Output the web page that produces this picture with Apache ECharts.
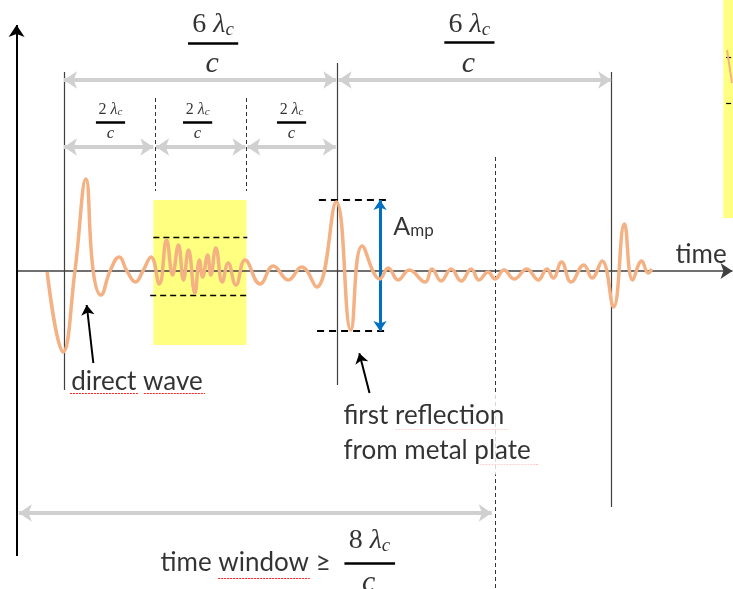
<!DOCTYPE html>
<html><head><meta charset="utf-8">
<script src="https://cdn.jsdelivr.net/npm/echarts@6/dist/echarts.min.js"></script>
<style>html,body{margin:0;padding:0;background:#fff}#c{width:733px;height:589px}</style>
</head><body><div id="c"></div>
<script>
// time in units of λc/c, amplitude in arbitrary units
const waveTime = [-0.37, -0.02, 0.24, 0.48, 0.64, 0.81, 1.01, 1.21, 1.38, 1.57, 1.73, 1.91, 2.09, 2.25, 2.38, 2.51, 2.62, 2.73, 2.87, 2.97, 3.04, 3.15, 3.22, 3.33, 3.47, 3.60, 3.77, 3.97, 4.30, 4.59, 4.92, 5.21, 5.54, 5.97, 6.29, 6.54, 6.93, 7.11, 7.33, 7.57, 7.92, 8.07, 8.27, 8.49, 8.71, 8.93, 9.10, 9.30, 9.45, 9.65, 9.87, 10.15, 10.40, 10.59, 10.73, 10.91, 11.12, 11.40, 11.58, 11.80, 12.05, 12.29, 12.47, 12.67, 12.81, 12.89];
const waveAmp = [-0.01, -0.81, 0, 0.92, 0, -0.24, 0, 0.14, 0, -0.11, 0, 0.14, -0.13, 0.31, -0.04, 0.26, -0.09, 0.21, -0.22, 0.11, -0.06, 0.16, -0.04, 0.23, -0.11, 0.08, -0.14, 0.11, -0.13, 0.05, -0.09, 0.04, -0.16, 0.69, -0.59, 0.25, -0.08, 0.03, -0.09, 0.01, -0.11, 0.02, -0.10, 0.02, -0.10, 0.02, -0.09, -0.01, -0.08, 0.01, -0.08, 0.02, -0.09, 0.02, -0.07, 0.09, -0.11, 0.06, -0.07, 0.10, -0.36, 0.47, -0.09, 0.10, -0.02, 0.02];

const bigMarks = [0, 6, 12];          // every 6 λc/c
const smallMarks = [0, 2, 4, 6];      // every 2 λc/c
const windowSpan = [-0.99, 9.38];     // time window arrow
const windowMark = 9.45;              // end of time window (dashed)
const clutterSpan = [1.96, 4.0];      // yellow clutter region
const clutterLevels = [0.34, -0.24];  // clutter envelope
const reflLevels = [0.71, -0.60];     // reflection peak / trough
const bigNum = '6', smallNum = '2', windowNum = '8';
const labels = {time: 'time', direct: 'direct wave', refl1: 'first reflection', refl2: 'from metal plate', window: 'time window ≥'};

const seg = (t1, a1, t2, a2) => [{coord: [t1, a1]}, {coord: [t2, a2]}];
function lineSeries(segs, style, symbol, symbolSize, z) {
  return {type: 'line', data: [], silent: true, z: z || 3,
    markLine: {silent: true, animation: false, symbol: symbol || 'none', symbolSize: symbolSize || 0,
      label: {show: false}, emphasis: {disabled: true},
      lineStyle: Object.assign({type: 'solid'}, style), data: segs}};
}
function areaSeries(areas, color, z) {
  return {type: 'line', data: [], silent: true, z: z || 1,
    markArea: {silent: true, animation: false, itemStyle: {color}, emphasis: {disabled: true},
      data: areas.map(r => [{coord: [r[0], r[1]]}, {coord: [r[2], r[3]]}])}};
}

const serif = 'Liberation Serif';
const sans = 'Lato';
const rich = {
  n: {fontFamily: serif, fontSize: 28, color: '#000'},
  l: {fontFamily: serif, fontStyle: 'italic', fontSize: 28, color: '#000'},
  s: {fontFamily: serif, fontStyle: 'italic', fontSize: 19, color: '#000', verticalAlign: 'bottom', lineHeight: 14},
  c: {fontFamily: serif, fontStyle: 'italic', fontSize: 30, color: '#000'},
  ns: {fontFamily: serif, fontSize: 16, color: '#000'},
  ls: {fontFamily: serif, fontStyle: 'italic', fontSize: 16, color: '#000'},
  ss: {fontFamily: serif, fontStyle: 'italic', fontSize: 11, color: '#000', verticalAlign: 'bottom', lineHeight: 8},
  cs: {fontFamily: serif, fontStyle: 'italic', fontSize: 17, color: '#000'},
  t: {fontFamily: sans, fontSize: 26, color: '#000'},
  A: {fontFamily: sans, fontSize: 25, color: '#000'},
  mp: {fontFamily: sans, fontSize: 17, color: '#000', verticalAlign: 'bottom', lineHeight: 14}
};
function txt(t, a, formatter, pos, extra) {
  return {value: [t, a], label: Object.assign({show: true, position: pos || 'inside', distance: 0, formatter, rich}, extra || {})};
}

const bigC = [3.27, 8.89], smallC = [1.02, 2.93, 4.99], winC = 6.70;
const textData = [];
bigC.forEach(c => {
  textData.push(txt(c, 2.46, `{n|${bigNum} }{l|λ}{s|c}`));
  textData.push(txt(c - 0.02, 2.07, '{c|c}'));
});
smallC.forEach(c => {
  textData.push(txt(c, 1.61, `{ns|${smallNum} }{ls|λ}{ss|c}`));
  textData.push(txt(c, 1.37, '{cs|c}'));
});
textData.push(txt(winC, -2.70, `{n|${windowNum} }{l|λ}{s|c}`));
textData.push(txt(winC - 0.02, -3.12, '{c|c}'));
textData.push(txt(2.105, -2.92, `{t|${labels.window}}`, 'right'));
textData.push(txt(0.147, -1.11, `{t|${labels.direct}}`, 'right'));
textData.push(txt(6.118, -1.635, `{t|${labels.refl1}}\n{t|${labels.refl2}}`, 'right',
  {backgroundColor: '#fff', padding: [4, 6, 6, 0], lineHeight: 35}));
textData.push(txt(7.21, 0.44, '{A|A}{mp|mp}', 'right'));
textData.push(txt(13.4, 0.16, `{t|${labels.time}}`, 'right'));

const gray = {color: '#D0D0D0', width: 4};
const series = [
  areaSeries([[clutterSpan[0], 0.71, clutterSpan[1], -0.74], [14.46, 2.71, 14.671, 0.53]], '#FFFF80', 1),
  // axes
  lineSeries([seg(-1.04, 0, 14.66, 0)], {color: '#404040', width: 1.5}, ['none', 'arrow'], 12, 2),
  lineSeries([seg(-1.04, -2.85, -1.04, 2.46)], {color: '#000', width: 2}, ['none', 'arrow'], 12, 2),
  // solid thin verticals
  lineSeries([seg(bigMarks[0], 1.99, bigMarks[0], -1.19), seg(bigMarks[1], 2.08, bigMarks[1], -1.14), seg(bigMarks[2], 1.99, bigMarks[2], -2.36)],
    {color: '#404040', width: 1.2}),
  // dashed verticals
  lineSeries([seg(smallMarks[1], 1.73, smallMarks[1], 0.80), seg(smallMarks[2], 1.73, smallMarks[2], 0.80), seg(windowMark, 1.14, windowMark, -3.17)],
    {color: '#333', width: 1, type: [4, 3]}),
  // gray double arrows
  lineSeries([
    seg(bigMarks[0], 1.91, bigMarks[1] - 0.03, 1.91), seg(bigMarks[1] + 0.02, 1.91, bigMarks[2], 1.91),
    seg(smallMarks[0], 1.24, smallMarks[1] - 0.04, 1.24), seg(smallMarks[1] + 0.02, 1.24, smallMarks[2] - 0.02, 1.24), seg(smallMarks[2] + 0.02, 1.24, smallMarks[3] - 0.04, 1.24),
    seg(windowSpan[0], -2.42, windowSpan[1], -2.42)
  ], gray, ['arrow', 'arrow'], 13, 3),
  // clutter dashed lines
  lineSeries([seg(1.96, clutterLevels[0], 4.02, clutterLevels[0]), seg(1.89, clutterLevels[1], 4.02, clutterLevels[1])],
    {color: '#000', width: 1.3, type: [6, 4]}, 'none', 0, 4),
  // reflection dashed lines
  lineSeries([seg(5.59, reflLevels[0], 7.08, reflLevels[0]), seg(5.55, reflLevels[1], 7.04, reflLevels[1])],
    {color: '#000', width: 2, type: [7, 5]}, 'none', 0, 4),
  // top-right fragment dashes
  lineSeries([seg(14.52, 2.14, 14.671, 2.14), seg(14.52, 1.68, 14.671, 1.68)], {color: '#000', width: 1.2, type: [5, 3]}, 'none', 0, 4),
  lineSeries([seg(14.54, 2.21, 14.65, 1.88)], {color: '#F4B183', width: 2}, 'none', 0, 4),
  // amplitude arrow
  lineSeries([seg(6.93, reflLevels[0], 6.93, reflLevels[1])], {color: '#0070C0', width: 3}, ['arrow', 'arrow'], 10, 6),
  // pointer arrows
  lineSeries([seg(0.643, -0.92, 0.498, -0.34), seg(6.70, -1.22, 6.476, -0.823)], {color: '#000', width: 2}, ['none', 'arrow'], 10, 6),
  // fraction bars
  lineSeries([
    seg(bigC[0] - 0.55, 2.28, bigC[0] + 0.55, 2.28), seg(bigC[1] - 0.55, 2.29, bigC[1] + 0.55, 2.29),
    seg(smallC[0] - 0.32, 1.49, smallC[0] + 0.32, 1.49), seg(smallC[1] - 0.32, 1.49, smallC[1] + 0.32, 1.49), seg(smallC[2] - 0.32, 1.49, smallC[2] + 0.32, 1.49),
    seg(winC - 0.55, -2.92, winC + 0.56, -2.92)
  ], {color: '#000', width: 2.5}, 'none', 0, 6),
  // waveform
  {type: 'line', data: waveTime.map((t, i) => [t, waveAmp[i]]), smooth: 0.45, showSymbol: false, silent: true, z: 5,
    lineStyle: {color: '#F4B183', width: 3.5}, animation: false},
  // spell-check squiggles
  lineSeries([seg(0.13, -1.223, 1.62, -1.223), seg(1.75, -1.223, 3.09, -1.223), seg(7.27, -1.583, 9.73, -1.583), seg(9.11, -1.933, 10.38, -1.933), seg(3.38, -3.073, 5.39, -3.073)],
    {color: '#FF2020', width: 1, type: [2, 1]}, 'none', 0, 12),
  // texts
  {type: 'scatter', data: textData, symbolSize: 1, itemStyle: {color: 'rgba(0,0,0,0)'}, silent: true, z: 10, animation: false}
];

const chart = echarts.init(document.getElementById('c'));
chart.setOption({
  animation: false,
  grid: {left: 0, right: 0, top: 0, bottom: 0},
  xAxis: {type: 'value', min: -1.4035, max: 14.671, show: false},
  yAxis: {type: 'value', min: -3.18, max: 2.71, show: false},
  series
});
</script></body></html>
